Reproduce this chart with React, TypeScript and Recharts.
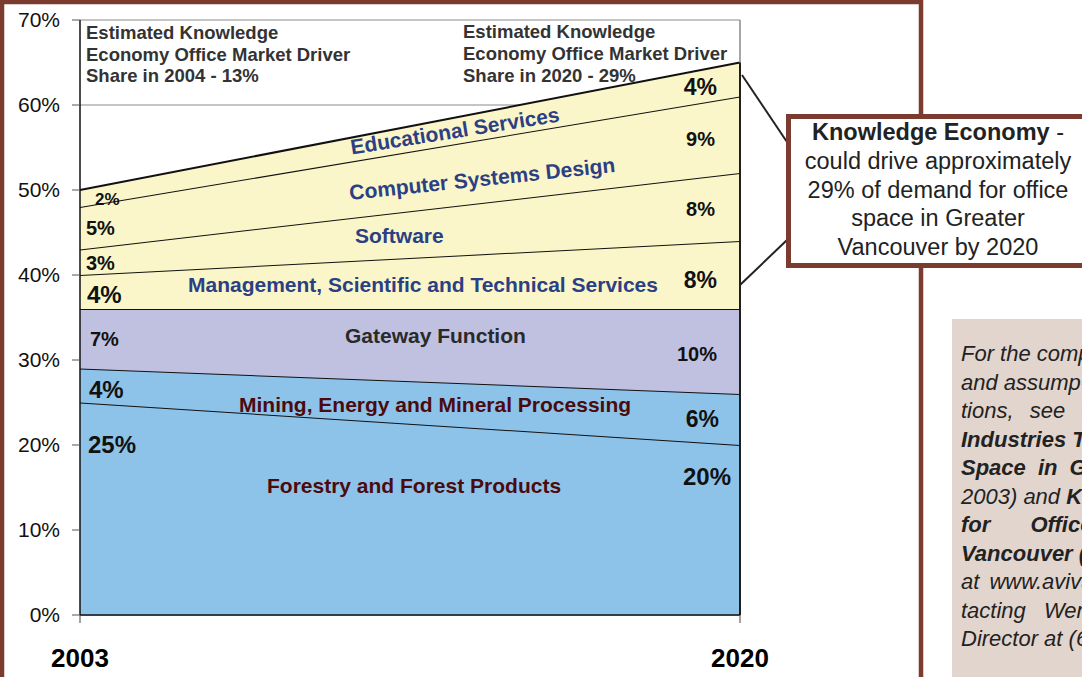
import {
  AreaChart,
  Area,
  XAxis,
  YAxis,
  CartesianGrid,
  ReferenceLine,
} from 'recharts';

const years = [2003, 2020];
const forestry = [25, 20];
const mining = [4, 6];
const gateway = [7, 10];
const management = [4, 8];
const software = [3, 8];
const computerDesign = [5, 9];
const education = [2, 4];
const yTicks = [0, 10, 20, 30, 40, 50, 60, 70];

const FONT = "'Liberation Sans', Arial, Helvetica, sans-serif";
const BROWN = '#7B3B2F';
const BLUE_FILL = '#8EC3E9';
const LAVENDER = '#C0C1E1';
const YELLOW = '#FAF6C9';
const BLUE_TEXT = '#2B3F84';
const MAROON = '#4B0B0E';
const DARK = '#2A2A2A';

const chartData = years.map((year, i) => ({
  year,
  forestry: forestry[i],
  mining: mining[i],
  gateway: gateway[i],
  management: management[i],
  software: software[i],
  computerDesign: computerDesign[i],
  education: education[i],
}));

const lastIdx = years.length - 1;
const topAtEnd =
  forestry[lastIdx] + mining[lastIdx] + gateway[lastIdx] + management[lastIdx] +
  software[lastIdx] + computerDesign[lastIdx] + education[lastIdx];

const pct = (v: number) => `${v}%`;

// percent labels at each end of the bands
const endLabels = [
  { text: pct(education[1]), x: 717, y: 95, size: 23, anchor: 'end' },
  { text: pct(computerDesign[1]), x: 715, y: 146, size: 20, anchor: 'end' },
  { text: pct(software[1]), x: 715, y: 216, size: 20, anchor: 'end' },
  { text: pct(management[1]), x: 717, y: 288, size: 23, anchor: 'end' },
  { text: pct(gateway[1]), x: 717, y: 361, size: 20, anchor: 'end' },
  { text: pct(mining[1]), x: 719, y: 427, size: 23, anchor: 'end' },
  { text: pct(forestry[1]), x: 731, y: 485, size: 24, anchor: 'end' },
  { text: pct(education[0]), x: 95, y: 205, size: 17, anchor: 'start' },
  { text: pct(computerDesign[0]), x: 86, y: 235, size: 20, anchor: 'start' },
  { text: pct(software[0]), x: 86, y: 270, size: 20, anchor: 'start' },
  { text: pct(management[0]), x: 87, y: 303, size: 24, anchor: 'start' },
  { text: pct(gateway[0]), x: 90, y: 346, size: 20, anchor: 'start' },
  { text: pct(mining[0]), x: 89, y: 398, size: 24, anchor: 'start' },
  { text: pct(forestry[0]), x: 88, y: 453, size: 24, anchor: 'start' },
];

const bandLabels = [
  { text: 'Educational Services', x: 456, y: 138, anchor: 'middle', rotate: -9, color: BLUE_TEXT },
  { text: 'Computer Systems Design', x: 483, y: 186, anchor: 'middle', rotate: -6, color: BLUE_TEXT },
  { text: 'Software', x: 355, y: 243, anchor: 'start', rotate: 0, color: BLUE_TEXT },
  { text: 'Management, Scientific and Technical Services', x: 188, y: 292, anchor: 'start', rotate: 0, color: BLUE_TEXT },
  { text: 'Gateway Function', x: 345, y: 343, anchor: 'start', rotate: 0, color: DARK },
  { text: 'Mining, Energy and Mineral Processing', x: 239, y: 412, anchor: 'start', rotate: 0, color: MAROON },
  { text: 'Forestry and Forest Products', x: 267, y: 493, anchor: 'start', rotate: 0, color: MAROON },
];

const headerLeft = ['Estimated Knowledge', 'Economy Office Market Driver', 'Share in 2004 - 13%'];
const headerRight = ['Estimated Knowledge', 'Economy Office Market Driver', 'Share in 2020 - 29%'];

const calloutLines = ['could drive approximately', '29% of demand for office', 'space in Greater', 'Vancouver by 2020'];

const noteLines = [
  { parts: [{ t: 'For the complete', b: false }], ws: 0 },
  { parts: [{ t: 'and assump-', b: false }], ws: 0 },
  { parts: [{ t: 'tions, see the', b: false }], ws: 10 },
  { parts: [{ t: 'Industries That', b: true }], ws: 0 },
  { parts: [{ t: 'Space in Greater', b: true }], ws: 6 },
  { parts: [{ t: '2003) and ', b: false }, { t: 'Key', b: true }], ws: 0 },
  { parts: [{ t: 'for Office', b: true }], ws: 34 },
  { parts: [{ t: 'Vancouver (2004)', b: true }], ws: 0 },
  { parts: [{ t: 'at www.aviva.ca', b: false }], ws: 4 },
  { parts: [{ t: 'tacting Wendy', b: false }], ws: 12 },
  { parts: [{ t: 'Director at (604)', b: false }], ws: 0 },
];

export default function App() {
  return (
    <div
      style={{
        position: 'fixed',
        left: 0,
        top: 0,
        width: 1082,
        height: 677,
        overflow: 'hidden',
        background: '#fff',
        fontFamily: FONT,
      }}
    >
      <div style={{ position: 'absolute', left: 0, top: 0 }}>
        <AreaChart
          width={800}
          height={677}
          data={chartData}
          margin={{ top: 20, right: 60, left: 0, bottom: 0 }}
        >
          <CartesianGrid horizontal vertical={false} stroke="#8a8a8a" strokeWidth={1} />
          <XAxis
            dataKey="year"
            type="number"
            domain={[2003, 2020]}
            ticks={years}
            height={62}
            tickSize={8}
            tickMargin={26}
            axisLine={{ stroke: '#111', strokeWidth: 1.5 }}
            tickLine={{ stroke: '#444' }}
            tick={{ fontSize: 26, fontWeight: 'bold', fill: '#000', fontFamily: FONT }}
          />
          <YAxis
            type="number"
            domain={[0, 70]}
            ticks={yTicks}
            width={80}
            tickSize={8}
            tickMargin={12}
            tickFormatter={(v) => `${v}%`}
            axisLine={{ stroke: '#111', strokeWidth: 1.5 }}
            tickLine={{ stroke: '#555' }}
            tick={{ fontSize: 21, fill: '#111', fontFamily: FONT }}
          />
          <Area type="linear" dataKey="forestry" stackId="1" stroke="#111" strokeWidth={2} fill={BLUE_FILL} fillOpacity={1} dot={false} activeDot={false} isAnimationActive={false} />
          <Area type="linear" dataKey="mining" stackId="1" stroke="#111" strokeWidth={2} fill={BLUE_FILL} fillOpacity={1} dot={false} activeDot={false} isAnimationActive={false} />
          <Area type="linear" dataKey="gateway" stackId="1" stroke="#111" strokeWidth={2} fill={LAVENDER} fillOpacity={1} dot={false} activeDot={false} isAnimationActive={false} />
          <Area type="linear" dataKey="management" stackId="1" stroke="#111" strokeWidth={2} fill={YELLOW} fillOpacity={1} dot={false} activeDot={false} isAnimationActive={false} />
          <Area type="linear" dataKey="software" stackId="1" stroke="#111" strokeWidth={2} fill={YELLOW} fillOpacity={1} dot={false} activeDot={false} isAnimationActive={false} />
          <Area type="linear" dataKey="computerDesign" stackId="1" stroke="#111" strokeWidth={2} fill={YELLOW} fillOpacity={1} dot={false} activeDot={false} isAnimationActive={false} />
          <Area type="linear" dataKey="education" stackId="1" stroke="#111" strokeWidth={2} fill={YELLOW} fillOpacity={1} dot={false} activeDot={false} isAnimationActive={false} />
          <ReferenceLine x={2020} stroke="#8a8a8a" strokeWidth={1.5} />
          <ReferenceLine
            segment={[
              { x: 2020, y: 0 },
              { x: 2020, y: topAtEnd },
            ]}
            stroke="#111"
            strokeWidth={1.8}
          />
        </AreaChart>
      </div>

      <svg
        width={1082}
        height={677}
        style={{ position: 'absolute', left: 0, top: 0, pointerEvents: 'none' }}
        fontFamily={FONT}
      >
        {/* outer brown frame */}
        <rect x={2} y={2} width={919} height={720} fill="none" stroke={BROWN} strokeWidth={4.5} />

        {/* header notes */}
        {headerLeft.map((t, i) => (
          <text key={'hl' + i} x={86} y={39 + i * 21.5} fontSize={18.5} fontWeight="bold" fill="#333">
            {t}
          </text>
        ))}
        {headerRight.map((t, i) => (
          <text key={'hr' + i} x={463} y={38 + i * 22} fontSize={18.5} fontWeight="bold" fill="#333">
            {t}
          </text>
        ))}

        {bandLabels.map((l) => (
          <text
            key={l.text}
            x={l.x}
            y={l.y}
            fontSize={21}
            fontWeight="bold"
            fill={l.color}
            textAnchor={l.anchor as any}
            transform={l.rotate ? `rotate(${l.rotate} ${l.x} ${l.y})` : undefined}
          >
            {l.text}
          </text>
        ))}

        {endLabels.map((l, i) => (
          <text
            key={'p' + i}
            x={l.x}
            y={l.y}
            fontSize={l.size}
            fontWeight="bold"
            fill="#111"
            textAnchor={l.anchor as any}
          >
            {l.text}
          </text>
        ))}

        {/* connectors to callout */}
        <line x1={742} y1={75} x2={787} y2={142} stroke="#222" strokeWidth={2} />
        <line x1={740} y1={285} x2={787} y2={240} stroke="#222" strokeWidth={2} />

        {/* callout box */}
        <rect x={788.5} y={116.5} width={330} height={149} fill="#fff" stroke={BROWN} strokeWidth={5} />
        <text x={938} y={140} fontSize={23.5} fill="#222" textAnchor="middle">
          <tspan fontWeight="bold">Knowledge Economy</tspan>
          <tspan> -</tspan>
        </text>
        {calloutLines.map((t, i) => (
          <text key={'c' + i} x={938} y={169 + i * 28.5} fontSize={23.5} fill="#222" textAnchor="middle">
            {t}
          </text>
        ))}

        {/* side note */}
        <rect x={952} y={319} width={200} height={400} fill="#E2D5CE" />
        {noteLines.map((line, i) => (
          <text
            key={'n' + i}
            x={961}
            y={361 + i * 28.5}
            fontSize={22}
            fontStyle="italic"
            fill="#222"
            style={{ wordSpacing: line.ws + 'px' }}
          >
            {line.parts.map((p, j) => (
              <tspan key={j} fontWeight={p.b ? 'bold' : 'normal'}>
                {p.t}
              </tspan>
            ))}
          </text>
        ))}
      </svg>
    </div>
  );
}
